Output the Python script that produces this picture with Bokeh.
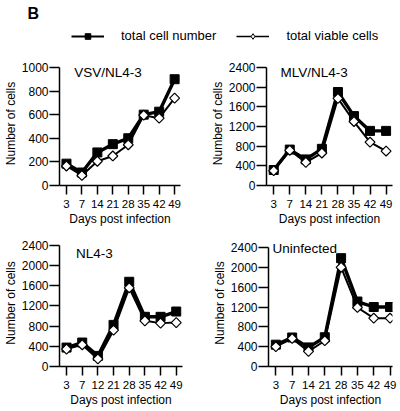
from bokeh.plotting import figure
from bokeh.models import Range1d, FixedTicker, Label, Legend, LegendItem, ColumnDataSource
from bokeh.layouts import column, row
from bokeh.embed import file_html
from bokeh.resources import INLINE

FONT = "Liberation Sans"

# ---- data ----
days_std = ["3", "7", "14", "21", "28", "35", "42", "49"]
days_nl = ["3", "7", "12", "21", "28", "35", "42", "49"]

vsv_total = [185, 110, 280, 350, 400, 600, 625, 900]
vsv_viable = [165, 85, 205, 250, 345, 595, 570, 740]

mlv_total = [315, 730, 530, 745, 1900, 1410, 1110, 1110]
mlv_viable = [300, 715, 470, 660, 1770, 1300, 880, 700]

nl_total = [375, 475, 210, 825, 1680, 985, 985, 1090]
nl_viable = [345, 430, 150, 720, 1560, 905, 860, 870]

un_total = [440, 585, 385, 590, 2185, 1310, 1200, 1200]
un_viable = [400, 565, 305, 520, 2000, 1190, 975, 975]

yticks_small = [0, 200, 400, 600, 800, 1000]
yticks_big = [0, 400, 800, 1200, 1600, 2000, 2400]


def make_panel(title, days, total, viable, yticks, height, left, frame_w,
               top, frame_h, pad, xend, tx, ty):
    ymax = yticks[-1]
    y_end = ymax * frame_h / (frame_h - pad)
    width = 200
    p = figure(width=width, height=height, output_backend="svg",
               toolbar_location=None,
               x_range=Range1d(-0.45, xend), y_range=Range1d(0, y_end),
               min_border_left=left, min_border_right=width - left - frame_w,
               min_border_top=top, min_border_bottom=height - top - frame_h)
    p.outline_line_color = None
    p.grid.visible = False
    idx = list(range(len(days)))
    src = ColumnDataSource(dict(x=idx, total=total, viable=viable))
    p.line("x", "total", source=src, line_color="black", line_width=3.4)
    p.scatter("x", "total", source=src, marker="square", size=9,
              fill_color="black", line_color="black")
    p.line("x", "viable", source=src, line_color="black", line_width=2)
    p.scatter("x", "viable", source=src, marker="square", angle=0.785398,
              size=7, fill_color="white", line_color="black", line_width=1.2)

    xa = p.xaxis[0]
    xa.ticker = FixedTicker(ticks=idx)
    xa.major_label_overrides = {i: d for i, d in enumerate(days)}
    xa.axis_label = "Days post infection"
    xa.major_tick_out = 9
    xa.major_label_standoff = 5
    xa.major_label_text_font_size = "11.5px"

    ya = p.yaxis[0]
    ya.ticker = FixedTicker(ticks=yticks)
    ya.bounds = (0, ymax)
    ya.axis_label = "Number of cells"
    ya.major_tick_out = 10
    ya.major_label_standoff = 1
    ya.major_label_text_font_size = "12px"

    for ax in (xa, ya):
        ax.major_tick_in = 0
        ax.minor_tick_in = 0
        ax.minor_tick_out = 0
        ax.axis_line_color = "black"
        ax.axis_line_width = 1.5
        ax.major_tick_line_color = "black"
        ax.major_tick_line_width = 1.5
        ax.major_label_text_font = FONT
        ax.major_label_text_color = "black"
        ax.axis_label_text_font = FONT
        ax.axis_label_text_font_size = "12px"
        ax.axis_label_text_font_style = "normal"
        ax.axis_label_text_color = "black"
        ax.axis_label_standoff = 1

    p.add_layout(Label(x=tx, y=ty, text=title, text_font=FONT,
                       text_font_size="13.5px", text_baseline="middle",
                       text_color="black"))
    return p


p1 = make_panel("VSV/NL4-3", days_std, vsv_total, vsv_viable, yticks_small,
                176, 57, 123, 7, 126, 6, 7.38, 0.5, 958)
p2 = make_panel("MLV/NL4-3", days_std, mlv_total, mlv_viable, yticks_big,
                176, 66, 126, 9, 126, 6, 7.4, 0.42, 2290)
p3 = make_panel("NL4-3", days_nl, nl_total, nl_viable, yticks_big,
                182, 56, 126, 10, 128, 6, 7.4, 0.61, 2243)
p4 = make_panel("Uninfected", days_std, un_total, un_viable, yticks_big,
                182, 68, 124, 11, 127, 8, 7.15, -0.2, 2380)

# ---- legend / header figure ----
lf = figure(width=400, height=52, output_backend="svg", toolbar_location=None,
            x_range=Range1d(0, 400), y_range=Range1d(0, 52),
            min_border=0, min_border_left=0, min_border_right=0,
            min_border_top=0, min_border_bottom=0)
lf.outline_line_color = None
lf.grid.visible = False
lf.axis.visible = False

# legend sample renderers (their data lie outside this header's ranges)
idx0 = list(range(len(days_std)))
r1l = lf.line(x=idx0, y=vsv_total, line_color="black", line_width=2)
r1s = lf.scatter(x=idx0, y=vsv_total, marker="square", size=6,
                 fill_color="black", line_color="black")
r2l = lf.line(x=idx0, y=vsv_viable, line_color="black", line_width=1.5)
r2s = lf.scatter(x=idx0, y=vsv_viable, marker="diamond", size=7,
                 fill_color="white", line_color="black", line_width=1)

legend = Legend(items=[LegendItem(label="total cell number", renderers=[r1l, r1s]),
                       LegendItem(label="total viable cells", renderers=[r2l, r2s])],
                location=(71, 9), orientation="horizontal",
                glyph_width=33, glyph_height=14, label_height=14,
                label_standoff=17, spacing=20, padding=0, margin=0,
                border_line_color=None, background_fill_alpha=0,
                label_text_font=FONT, label_text_font_size="13px",
                label_text_color="black")
lf.add_layout(legend)

lf.add_layout(Label(x=27, y=39.5, text="B", text_font=FONT,
                    text_font_style="bold", text_font_size="16px",
                    text_baseline="middle", text_color="black"))

layout = column(lf, row(p1, p2), row(p3, p4))

open("out.html", "w").write(file_html(layout, INLINE))
